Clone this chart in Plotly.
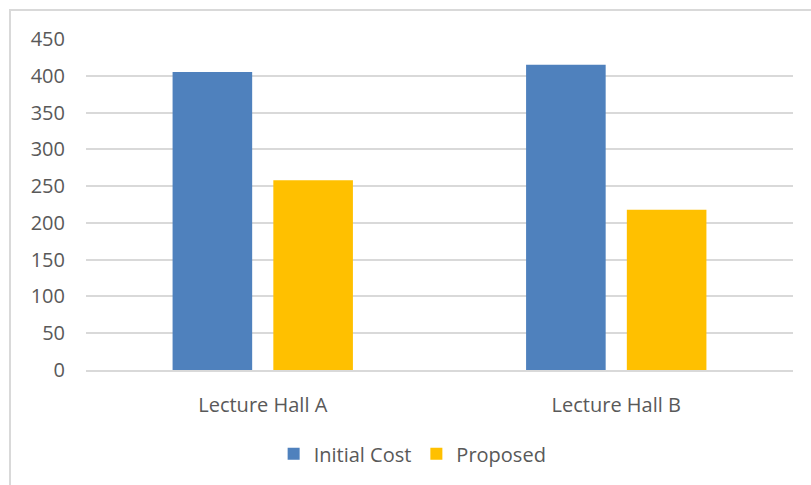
import plotly.graph_objects as go

categories = ["Lecture Hall A", "Lecture Hall B"]
initial_cost = [405, 415]
proposed = [258, 218]

TEXT = "#595959"
GRID = "#d9d9d9"

fig = go.Figure()
fig.add_trace(go.Bar(name="Initial Cost", x=categories, y=initial_cost,
                     marker=dict(color="#4f81bd", line=dict(width=0))))
fig.add_trace(go.Bar(name="Proposed", x=categories, y=proposed,
                     marker=dict(color="#ffc000", line=dict(width=0))))

fig.update_layout(
    width=811, height=485,
    margin=dict(l=86, r=18, t=39, b=115),
    paper_bgcolor="white", plot_bgcolor="white",
    font=dict(family="Open Sans", size=20, color=TEXT),
    barmode="group", bargap=0.43, bargroupgap=0.21,
    showlegend=True,
    legend=dict(orientation="h", x=0.462, xanchor="center", y=-0.253, yanchor="middle",
                font=dict(size=20, color=TEXT), itemwidth=30, traceorder="normal"),
    xaxis=dict(showgrid=False, showline=True, linecolor=GRID, linewidth=2,
               ticks="", tickfont=dict(size=20), ticklabelstandoff=16),
    yaxis=dict(range=[0, 450], dtick=50, showgrid=True, gridcolor=GRID, gridwidth=2,
               zeroline=False, showline=False, ticks="", ticklabelstandoff=20,
               tickfont=dict(size=20)),
    shapes=[dict(type="rect", xref="paper", yref="paper",
                 x0=-0.1075, x1=1.2, y0=-0.6, y1=1.0877,
                 line=dict(color=GRID, width=2), layer="below")],
)

fig.write_html("out.html")
